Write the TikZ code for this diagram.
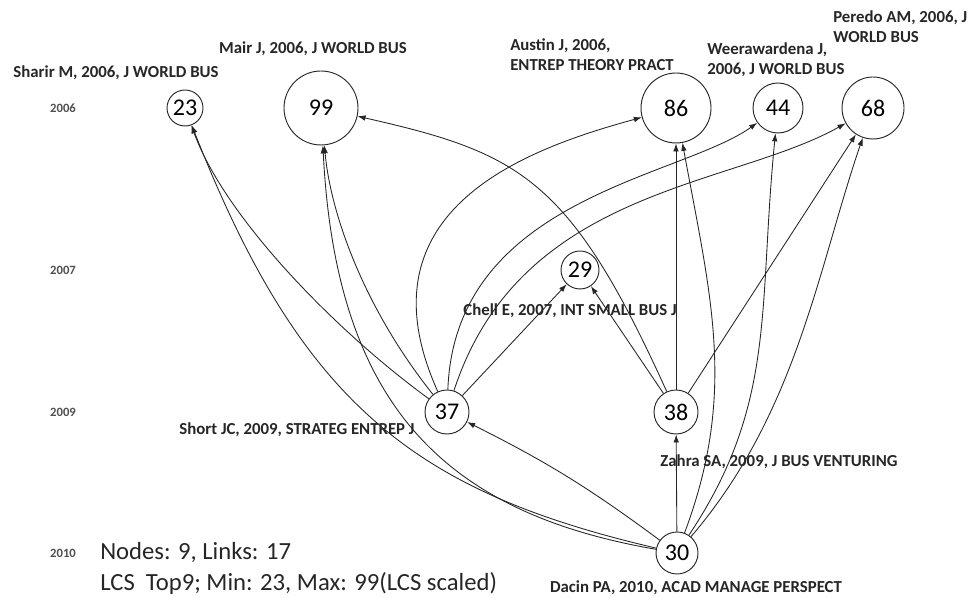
\documentclass[tikz,border=0pt]{standalone}
\usepackage{fontspec}
\setmainfont{Carlito}
\usepackage{tikz}
\usetikzlibrary{arrows.meta}
\definecolor{ink}{HTML}{262626}
\definecolor{muted}{HTML}{505050}
\tikzset{
  paper/.style={circle, draw=ink, line width=0.7pt, inner sep=0pt, font=\fontsize{18}{18}\selectfont},
  link/.style={-{Latex[length=6pt,width=4.2pt]}, line width=0.65pt, draw=ink},
  lab/.style={text=ink, inner sep=0pt, font=\bfseries\fontsize{12.6}{14.8}\selectfont},
  yr/.style={text=muted, font=\bfseries\fontsize{9.5}{9.5}\selectfont},
  note/.style={text=ink, anchor=west, align=left, inner sep=0pt, font=\fontsize{18.5}{23}\selectfont}
}

\begin{document}
\begin{tikzpicture}[x=0.75pt,y=0.75pt]
  \useasboundingbox (0,0) rectangle (969,598);

  % years
  \node[yr] (y2006) at (63,490) {2006};
  \node[yr] (y2007) at (63,328) {2007};
  \node[yr] (y2009) at (63,186) {2009};
  \node[yr] (y2010) at (63,45) {2010};

  % papers, scaled by LCS
  \node[paper, minimum size=27pt]   (n23) at (185,490) {23};
  \node[paper, minimum size=55.5pt] (n99) at (321,490) {99};
  \node[paper, minimum size=52.5pt] (n86) at (676,490) {86};
  \node[paper, minimum size=37.5pt] (n44) at (778,490) {44};
  \node[paper, minimum size=46.5pt] (n68) at (873,490) {68};
  \node[paper, minimum size=28.5pt] (n29) at (580,328) {29};
  \node[paper, minimum size=33pt]   (n37) at (447,186) {37};
  \node[paper, minimum size=33pt]   (n38) at (676,186) {38};
  \node[paper, minimum size=31.5pt] (n30) at (677,45) {30};

  \node[lab] (l23) at (116,525) {Sharir M, 2006, J WORLD BUS};
  \node[lab] (l99) at (313,549) {Mair J, 2006, J WORLD BUS};
  \node[lab, anchor=west, align=left] (l86) at (510,543) {Austin J, 2006,\\ENTREP THEORY PRACT};
  \node[lab, anchor=west, align=left] (l44) at (707,538) {Weerawardena J,\\2006, J WORLD BUS};
  \node[lab, anchor=west, align=left] (l68) at (833,571) {Peredo AM, 2006, J\\WORLD BUS};
  \node[lab] (l29) at (570,287) {Chell E, 2007, INT SMALL BUS J};
  \node[lab] (l37) at (297,168) {Short JC, 2009, STRATEG ENTREP J};
  \node[lab] (l38) at (779,136) {Zahra SA, 2009, J BUS VENTURING};
  \node[lab] (l30) at (696,10) {Dacin PA, 2010, ACAD MANAGE PERSPECT};

  % citation links
  \draw[link] (n30) .. controls +(-261,61) and +(117,-298) .. (n23);
  \draw[link] (n30) .. controls +(-230,40) and +(15,-300) .. (n99);
  \draw[link] (n30) to[bend right=5] (n37);
  \draw[link] (n30) -- (n38);
  \draw[link] (n30) .. controls +(60,160) and +(35,-190) .. (n86);
  \draw[link] (n30) .. controls +(100,150) and +(-20,-200) .. (n44);
  \draw[link] (n30) .. controls +(120,140) and +(-55,-160) .. (n68);
  \draw[link] (n37) .. controls +(-110,80) and +(40,-110) .. (n23);
  \draw[link] (n37) .. controls +(-80,100) and +(10,-110) .. (n99);
  \draw[link] (n37) -- (n29);
  \draw[link] (n37) .. controls +(-92,204) and +(-146,-40) .. (n86);
  \draw[link] (n37) .. controls +(8,214) and +(-98,-70) .. (n44);
  \draw[link] (n37) .. controls +(73,224) and +(-143,-80) .. (n68);
  \draw[link] (n38) .. controls +(-106,234) and +(199,-45) .. (n99);
  \draw[link] (n38) -- (n29);
  \draw[link] (n38) -- (n86);
  \draw[link] (n38) -- (n68);

  \node[note] (stats) at (100,29.5) {Nodes: 9, Links: 17\\LCS\ \ Top9; Min: 23, Max: 99(LCS scaled)};
\end{tikzpicture}
\end{document}
